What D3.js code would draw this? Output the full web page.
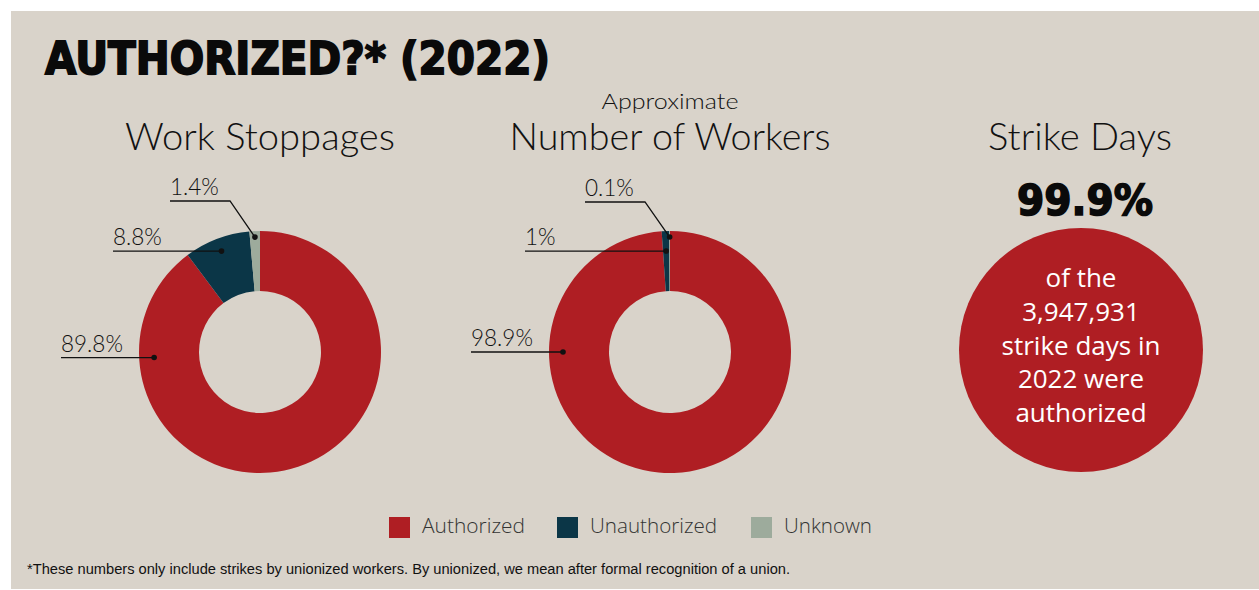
<!DOCTYPE html>
<html>
<head>
<meta charset="utf-8">
<script src="https://cdn.jsdelivr.net/npm/d3@7"></script>
<style>
  html, body { margin: 0; padding: 0; background: #ffffff; }
  svg { display: block; }
</style>
</head>
<body>
<svg id="chart" width="1259" height="590"></svg>
<script>
// ---------- data ----------
const categories = ["Authorized", "Unauthorized", "Unknown"];
const stoppagesPct = [89.8, 8.8, 1.4];
const workersPct = [98.9, 1.0, 0.1];
const stoppagesLabels = ["89.8%", "8.8%", "1.4%"];
const workersLabels = ["98.9%", "1%", "0.1%"];
const panelTitles = ["Work Stoppages", "Number of Workers", "Strike Days"];
const panelSubtitles = ["", "Approximate", ""];
const strikeDaysAuthorizedPct = 99.9;
const strikeDaysTotal = 3947931;
const strikeDaysYear = 2022;
const chartTitle = "AUTHORIZED?* (2022)";
const footnote = "*These numbers only include strikes by unionized workers. By unionized, we mean after formal recognition of a union.";

// ---------- style ----------
const W = 1259, H = 590;
const bg = "#d9d3ca";
const color = d3.scaleOrdinal().domain(categories).range(["#af1e23", "#0b3647", "#9dab9c"]);
const lightFont = "Lato, 'Open Sans', sans-serif";

const svg = d3.select("#chart");
svg.append("rect").attr("x", 11).attr("y", 11).attr("width", W - 11).attr("height", H - 12).attr("fill", bg);

// title
svg.append("text")
  .attr("x", 45).attr("y", 74)
  .attr("font-family", "'DejaVu Sans', sans-serif")
  .attr("font-weight", 900)
  .attr("font-size", 44)
  .attr("fill", "#0a0a0a")
  .attr("stroke", "#0a0a0a").attr("stroke-width", 1.8)
  .attr("textLength", 505).attr("lengthAdjust", "spacingAndGlyphs")
  .text(chartTitle);

// panel centres (x)
const xPanel = d3.scalePoint().domain(panelTitles).range([260, 1080]);
const titleWidths = [270, 321, 184];
panelTitles.forEach((t, i) => {
  svg.append("text")
    .attr("x", xPanel(t)).attr("y", 150)
    .attr("text-anchor", "middle")
    .attr("font-family", lightFont).attr("font-weight", 300)
    .attr("font-size", 38).attr("fill", "#111")
    .attr("textLength", titleWidths[i]).attr("lengthAdjust", "spacingAndGlyphs")
    .text(t);
  if (panelSubtitles[i]) {
    svg.append("text")
      .attr("x", xPanel(t)).attr("y", 109)
      .attr("text-anchor", "middle")
      .attr("font-family", lightFont).attr("font-weight", 300)
      .attr("font-size", 21).attr("fill", "#111")
      .attr("textLength", 137).attr("lengthAdjust", "spacingAndGlyphs")
      .text(panelSubtitles[i]);
  }
});

// ---------- donuts ----------
const outerR = 121, innerR = 61, cy = 352;
const pie = d3.pie().sort(null).value(d => d.value);
const arc = d3.arc().innerRadius(innerR).outerRadius(outerR);

// leader-line layout per slice: text offset from centre, dot radius, optional elbow
const leaderLayouts = [
  [ {textDx: -199, r: 106, angle: 267}, {textDx: -147, r: 108}, {textDx: -90, r: 115, lineDy: -151, elbowDx: -30} ],
  [ {textDx: -199, r: 107, angle: 270}, {textDx: -145, r: 101}, {textDx: -85, r: 115, lineDy: -150, elbowDx: -25} ]
];

function drawDonut(values, labels, cx, layout) {
  const data = categories.map((c, i) => ({cat: c, value: values[i], label: labels[i]}));
  const g = svg.append("g").attr("transform", `translate(${cx},${cy})`);
  const arcs = pie(data);
  g.selectAll("path").data(arcs).join("path")
    .attr("d", arc)
    .attr("fill", d => color(d.data.cat));

  arcs.forEach((a, i) => {
    const L = layout[i];
    const ang = L.angle !== undefined ? L.angle * Math.PI / 180 : (a.startAngle + a.endAngle) / 2;
    const dx = L.r * Math.sin(ang), dy = -L.r * Math.cos(ang);
    const lineY = L.lineDy !== undefined ? L.lineDy : dy;
    const pts = [[L.textDx, lineY]];
    if (L.elbowDx !== undefined) pts.push([L.elbowDx, lineY]);
    pts.push([dx, dy]);
    g.append("path")
      .attr("d", d3.line()(pts))
      .attr("fill", "none").attr("stroke", "#111").attr("stroke-width", 1.3);
    g.append("circle").attr("cx", dx).attr("cy", dy).attr("r", 2.8).attr("fill", "#111");
    g.append("text")
      .attr("x", L.textDx).attr("y", lineY - 6)
      .attr("font-family", lightFont).attr("font-weight", 300)
      .attr("font-size", 22.5).attr("fill", "#111")
      .text(a.data.label);
  });
}
drawDonut(stoppagesPct, stoppagesLabels, xPanel(panelTitles[0]), leaderLayouts[0]);
drawDonut(workersPct, workersLabels, xPanel(panelTitles[1]), leaderLayouts[1]);

// ---------- strike days ----------
const sx = 1081, sy = 350;
svg.append("text")
  .attr("x", 1085).attr("y", 215)
  .attr("text-anchor", "middle")
  .attr("font-family", "'DejaVu Sans', sans-serif").attr("font-weight", 900)
  .attr("font-size", 42).attr("fill", "#0a0a0a")
  .attr("stroke", "#0a0a0a").attr("stroke-width", 1.6)
  .attr("textLength", 136).attr("lengthAdjust", "spacingAndGlyphs")
  .text(d3.format(".1f")(strikeDaysAuthorizedPct) + "%");

svg.append("circle").attr("cx", sx).attr("cy", sy).attr("r", 122).attr("fill", color("Authorized"));
const circleLines = ["of the", d3.format(",")(strikeDaysTotal), "strike days in", strikeDaysYear + " were", "authorized"];
circleLines.forEach((t, i) => {
  svg.append("text")
    .attr("x", sx).attr("y", 287 + i * 33.8)
    .attr("text-anchor", "middle")
    .attr("font-family", "'Open Sans', sans-serif").attr("font-weight", 500)
    .attr("font-size", 26).attr("fill", "#ffffff")
    .text(t);
});

// ---------- legend ----------
const legendX = [389, 557, 751];
const legendW = [103, 127, 88];
categories.forEach((c, i) => {
  svg.append("rect").attr("x", legendX[i]).attr("y", 517).attr("width", 21).attr("height", 21)
    .attr("fill", color(c));
  svg.append("text").attr("x", legendX[i] + 33).attr("y", 533)
    .attr("font-family", "'Open Sans', sans-serif").attr("font-weight", 300)
    .attr("font-size", 20).attr("fill", "#333")
    .attr("textLength", legendW[i]).attr("lengthAdjust", "spacingAndGlyphs")
    .text(c);
});

// footnote
svg.append("text").attr("x", 27).attr("y", 574)
  .attr("font-family", "'Liberation Sans Narrow', 'Liberation Sans', sans-serif")
  .attr("font-size", 14).attr("fill", "#111")
  .attr("textLength", 763).attr("lengthAdjust", "spacingAndGlyphs")
  .text(footnote);
</script>
</body>
</html>
